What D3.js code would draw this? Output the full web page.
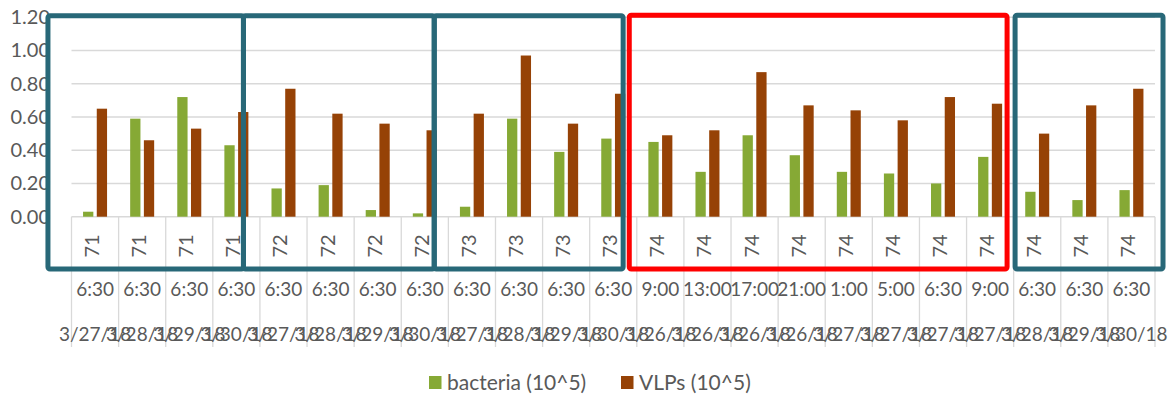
<!DOCTYPE html>
<html>
<head>
<meta charset="utf-8">
<script src="https://cdn.jsdelivr.net/npm/d3@7/dist/d3.min.js"></script>
<style>
  html, body { margin: 0; padding: 0; background: #fff; }
  svg { display: block; font-family: Lato, "Open Sans", sans-serif; }
</style>
</head>
<body>
<svg id="chart" width="1169" height="398"></svg>
<script>
// Station / time / date labels of each sample (three-level category axis)
const stations = ["71","71","71","71","72","72","72","72","73","73","73","73",
                  "74","74","74","74","74","74","74","74","74","74","74"];
const times = ["6:30","6:30","6:30","6:30","6:30","6:30","6:30","6:30","6:30","6:30","6:30","6:30",
               "9:00","13:00","17:00","21:00","1:00","5:00","6:30","9:00","6:30","6:30","6:30"];
const dates = ["3/27/18","3/28/18","3/29/18","3/30/18","3/27/18","3/28/18","3/29/18","3/30/18",
               "3/27/18","3/28/18","3/29/18","3/30/18",
               "3/26/18","3/26/18","3/26/18","3/26/18","3/27/18","3/27/18","3/27/18","3/27/18",
               "3/28/18","3/29/18","3/30/18"];

// Abundances (x10^5)
const bacteria = [0.03,0.59,0.72,0.43, 0.17,0.19,0.04,0.02, 0.06,0.59,0.39,0.47,
                  0.45,0.27,0.49,0.37,0.27,0.26,0.20,0.36, 0.15,0.10,0.16];
const vlps     = [0.65,0.46,0.53,0.63, 0.77,0.62,0.56,0.52, 0.62,0.97,0.56,0.74,
                  0.49,0.52,0.87,0.67,0.64,0.58,0.72,0.68, 0.50,0.67,0.77];

const seriesNames = ["bacteria (10^5)", "VLPs (10^5)"];
const yTicks = [0, 0.2, 0.4, 0.6, 0.8, 1.0, 1.2];

// Highlight frames around sample groups, in category-index / value units
const frames = [
  { x0: -0.50, x1: 3.65,  y0: 1.21,  y1: -0.315, color: "#286878" },
  { x0: 3.65,  x1: 7.70,  y0: 1.21,  y1: -0.315, color: "#286878" },
  { x0: 7.70,  x1: 11.71, y0: 1.21,  y1: -0.315, color: "#286878" },
  { x0: 11.84, x1: 19.86, y0: 1.213, y1: -0.315, color: "#ff0000" },
  { x0: 20.03, x1: 23.17, y0: 1.213, y1: -0.315, color: "#286878" }
];

const colors = ["#86a935", "#964206"];
const textColor = "#595959";
const gridColor = "#d9d9d9";

const svg = d3.select("#chart");
const plotLeft = 71.5, plotRight = 1155, plotTop = 17.3, base = 216.7, cellBottom = 347;

const idx = d3.range(stations.length);
const x = d3.scaleBand().domain(idx).range([plotLeft, plotRight]).padding(0);
const bw = x.bandwidth();
const xs = d3.scaleBand().domain([0, 1]).range([bw / 2 - 12, bw / 2 + 12]).paddingInner(0.25);
const y = d3.scaleLinear().domain([0, 1.2]).range([base, plotTop]);
// continuous position in category units, used for separators and frames
const xu = d3.scaleLinear().domain([0, stations.length]).range([plotLeft, plotRight]);

// Gridlines
svg.append("g").selectAll("line").data(yTicks).join("line")
  .attr("x1", plotLeft).attr("x2", plotRight)
  .attr("y1", d => y(d)).attr("y2", d => y(d))
  .attr("stroke", gridColor).attr("stroke-width", 1.5);

// Y axis labels
const yAxis = d3.axisLeft(y).tickValues(yTicks).tickFormat(d3.format(".2f")).tickSize(0).tickPadding(0);
const gy = svg.append("g").attr("transform", "translate(50,0)").call(yAxis);
gy.select(".domain").remove();
gy.selectAll("text").attr("fill", textColor).attr("font-size", 20).attr("font-family", "Lato, sans-serif");

// Category cell separators
svg.append("g").selectAll("line").data(d3.range(stations.length + 1)).join("line")
  .attr("x1", d => xu(d)).attr("x2", d => xu(d))
  .attr("y1", base).attr("y2", cellBottom)
  .attr("stroke", gridColor).attr("stroke-width", 1.3);

// Bars
const seriesData = [bacteria, vlps];
seriesData.forEach((vals, s) => {
  svg.append("g").selectAll("rect").data(vals).join("rect")
    .attr("x", (d, i) => x(i) + xs(s))
    .attr("width", xs.bandwidth())
    .attr("y", d => y(d))
    .attr("height", d => base - y(d))
    .attr("fill", colors[s]);
});

// Station labels (rotated)
svg.append("g").selectAll("text").data(stations).join("text")
  .attr("transform", (d, i) => `translate(${x(i) + bw / 2 + 4},246) rotate(-90)`)
  .attr("text-anchor", "middle")
  .attr("font-size", 20).attr("fill", textColor)
  .text(d => d);

// Time labels
svg.append("g").selectAll("text").data(times).join("text")
  .attr("x", (d, i) => x(i) + bw / 2).attr("y", 296)
  .attr("text-anchor", "middle")
  .attr("font-size", 19).attr("fill", textColor)
  .text(d => d);

// Date labels
svg.append("g").selectAll("text").data(dates).join("text")
  .attr("x", (d, i) => x(i) + bw / 2).attr("y", 341)
  .attr("text-anchor", "middle")
  .attr("font-size", 19).attr("fill", textColor)
  .text(d => d);

// Group frames
svg.append("g").selectAll("rect").data(frames).join("rect")
  .attr("x", d => xu(d.x0))
  .attr("y", d => y(d.y0))
  .attr("width", d => xu(d.x1) - xu(d.x0))
  .attr("height", d => y(d.y1) - y(d.y0))
  .attr("rx", 2)
  .attr("fill", "none")
  .attr("stroke", d => d.color)
  .attr("stroke-width", 5);

// Legend
const legend = svg.append("g").attr("transform", "translate(429,376)");
const legendX = [0, 192];
seriesNames.forEach((name, s) => {
  const g = legend.append("g").attr("transform", `translate(${legendX[s]},0)`);
  g.append("rect").attr("width", 12.5).attr("height", 13).attr("fill", colors[s]);
  g.append("text").attr("x", 18).attr("y", 14).attr("font-size", 21)
    .attr("fill", textColor).text(name);
});
</script>
</body>
</html>
